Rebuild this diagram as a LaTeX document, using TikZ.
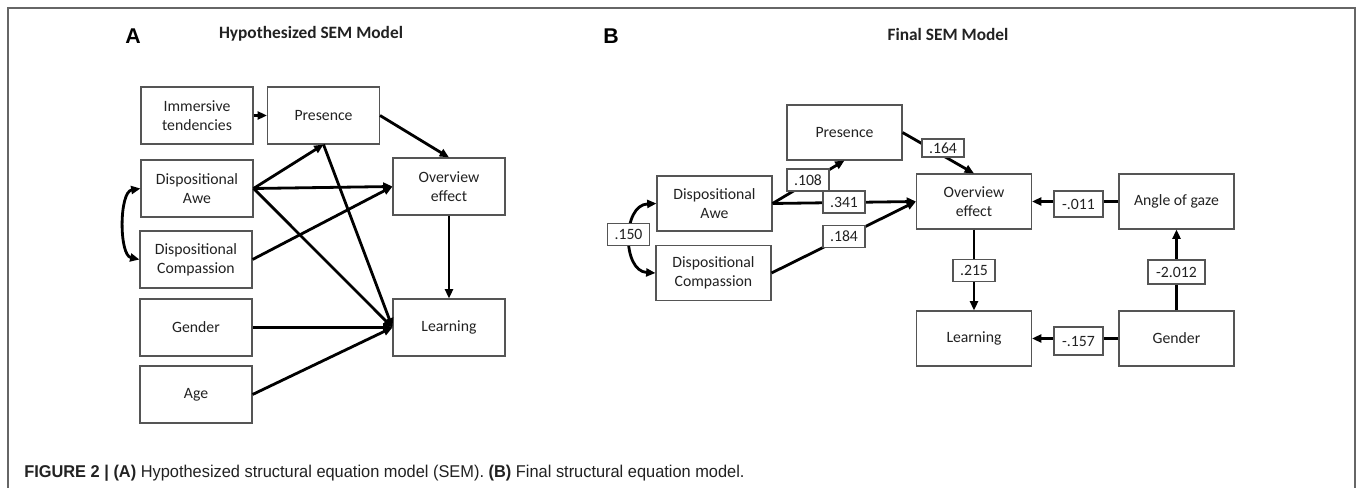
\documentclass[tikz,border=0pt]{standalone}
\usepackage{fontspec}
\setmainfont{Carlito}
\newfontfamily\arialf{Liberation Sans}
\newfontfamily\capf[FakeStretch=0.96]{Liberation Sans}
\usetikzlibrary{arrows.meta}
\definecolor{boxgray}{HTML}{555555}
\definecolor{framegray}{HTML}{666666}
\definecolor{txt}{HTML}{222222}
\begin{document}
\begin{tikzpicture}[x=0.75pt,y=-0.75pt,
  boxa/.style={draw=boxgray, line width=0.8pt, fill=white, minimum width=84pt, minimum height=42.75pt, inner sep=0pt, align=center, font=\fontsize{11.8}{14}\selectfont, text=txt},
  boxb/.style={boxa, minimum width=86.25pt, minimum height=41.25pt},
  lab/.style={draw=boxgray, line width=0.8pt, fill=white, inner sep=0pt, minimum width=31.5pt, minimum height=16.5pt, font=\fontsize{11.8}{14}\selectfont, text=txt},
  path/.style={line width=2.1pt, -{Triangle[length=7pt,width=6pt]}},
  dpath/.style={line width=2.1pt, {Triangle[length=7pt,width=6pt]}-{Triangle[length=7pt,width=6pt]}},
  title/.style={font=\fontsize{13}{15}\selectfont\bfseries, text=txt},
  letter/.style={font=\arialf\fontsize{16}{18}\selectfont\bfseries}
]
\useasboundingbox (0,0) rectangle (1357,488);
\fill[white] (0,0) rectangle (1357,488);
% frame
\draw[framegray, line width=1.5pt] (8,488) -- (8,8) -- (1355,8) -- (1355,488);

% ---------- Panel A ----------
\node[letter] (la) at (133,36) {A};
\node[title] (ta) at (311,34) {Hypothesized SEM Model};

\node[boxa] (imm) at (197,115.5) {Immersive\\tendencies};
\node[boxa] (presA) at (323.5,115.5) {Presence};
\node[boxa] (aweA) at (197,188.5) {Dispositional\\Awe};
\node[boxa] (comA) at (196,259.5) {Dispositional\\Compassion};
\node[boxa] (genA) at (196,327.5) {Gender};
\node[boxa] (ageA) at (196,394.5) {Age};
\node[boxa] (ovA) at (449,186.5) {Overview\\effect};
\node[boxa] (learnA) at (449,327.5) {Learning};

\draw[path] (imm.east) -- (presA.west);
\draw[path] (presA.east) -- (ovA.north);
\draw[path] (aweA.east) -- (presA.south);
\draw[path] (aweA.east) -- (ovA.west);
\draw[path] (aweA.east) -- (learnA.west);
\draw[path] (presA.south) -- (learnA.west);
\draw[path] (comA.east) -- (ovA.west);
\draw[path] (genA.east) -- (learnA.west);
\draw[path] (ageA.east) -- (learnA.west);
\draw[path] (ovA.south) -- (learnA.north);
\draw[dpath] (aweA.west) .. controls (119,192) and (119,255) .. (comA.west);

% ---------- Panel B ----------
\node[letter] (lb) at (611,36) {B};
\node[title] (tb) at (948,34) {Final SEM Model};

\node[boxb] (presB) at (844.5,132.5) {Presence};
\node[boxb] (aweB) at (714.5,203.5) {Dispositional\\Awe};
\node[boxb] (comB) at (713.5,273) {Dispositional\\Compassion};
\node[boxb] (ovB) at (974,201.5) {Overview\\effect};
\node[boxb] (angB) at (1176.5,201.5) {Angle of gaze};
\node[boxb] (learnB) at (974,338.5) {Learning};
\node[boxb] (genB) at (1176.5,338.5) {Gender};

\draw[path] (aweB.east) -- (presB.south);
\draw[path] (aweB.east) -- (ovB.west);
\draw[path] (comB.east) -- (ovB.west);
\draw[path] (presB.east) -- (ovB.north);
\draw[path] (angB.west) -- (ovB.east);
\draw[path] (ovB.south) -- (learnB.north);
\draw[path] (genB.north) -- (angB.south);
\draw[path] (genB.west) -- (learnB.east);
\draw[dpath] (aweB.west) .. controls (622,205) and (622,271) .. (comB.west);

\node[lab] (l150) at (628.5,234.5) {.150};
\node[lab] (l108) at (808,180) {.108};
\node[lab] (l341) at (844,202) {.341};
\node[lab] (l184) at (844,236.5) {.184};
\node[lab, minimum height=13.5pt] (l164) at (943,148) {.164};
\node[lab, minimum width=36.75pt, minimum height=19.5pt] (l011) at (1078.5,204) {-.011};
\node[lab] (l215) at (974,270.5) {.215};
\node[lab, minimum width=42.75pt, minimum height=18pt] (l2012) at (1176.5,272) {-2.012};
\node[lab, minimum width=36.75pt, minimum height=21pt] (l157) at (1078.5,341) {-.157};

% ---------- Caption ----------
\node[anchor=base west, inner sep=0pt, text=txt, font=\capf\fontsize{12.8}{14}\selectfont] (cap) at (24,477)
  {\textbf{FIGURE 2 | (A)} Hypothesized structural equation model (SEM). \textbf{(B)} Final structural equation model.};
\end{tikzpicture}
\end{document}
